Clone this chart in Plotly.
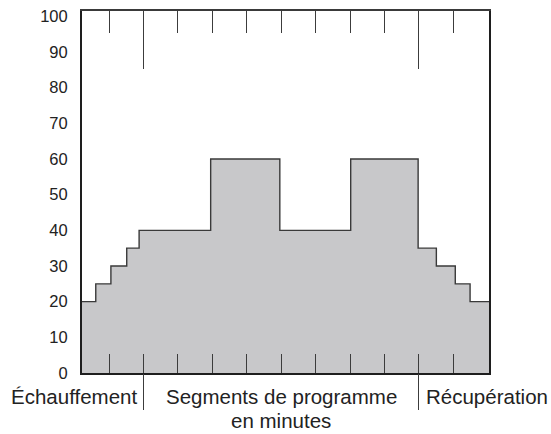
import plotly.graph_objects as go

FONT = "Liberation Sans, Arial, sans-serif"
TEXT_COLOR = "#222222"
FRAME_COLOR = "#1e1e1e"
TICK_COLOR = "#3c3c3c"

# step edges, in units of one tick interval (ticks at 0..10)
STEP_EDGES = [-0.79, -0.39, 0.05, 0.51, 0.87, 2.95, 4.96, 7.02, 8.98, 9.51, 10.06, 10.49, 11.04]
INTENSITY = [20, 25, 30, 35, 40, 60, 40, 60, 35, 30, 25, 20]

SEGMENT_TICKS = [0, 1, 2, 3, 4, 5, 6, 7, 8, 9, 10]
LONG_TICKS = [1, 9]
Y_TICKS = [0, 10, 20, 30, 40, 50, 60, 70, 80, 90, 100]

LABEL_WARMUP = "Échauffement"
LABEL_MAIN = ["Segments de programme", "en minutes"]
LABEL_RECOVERY = "Récupération"

x_range = [STEP_EDGES[0], STEP_EDGES[-1]]

fig = go.Figure()

# step profile, filled down to zero
fig.add_trace(
    go.Scatter(
        x=STEP_EDGES,
        y=INTENSITY + [INTENSITY[-1]],
        mode="lines",
        line_shape="hv",
        line=dict(color="#3a3a3a", width=1.4),
        fill="tozeroy",
        fillcolor="#c8c8ca",
        hoverinfo="skip",
        showlegend=False,
    )
)

fig.update_layout(
    width=551,
    height=434,
    margin=dict(l=82, r=62, t=7, b=61),
    plot_bgcolor="white",
    paper_bgcolor="white",
    font=dict(family=FONT, color=TEXT_COLOR, size=16),
    showlegend=False,
    # bottom axis: frame line + short inside ticks
    xaxis=dict(
        range=x_range,
        showgrid=False,
        zeroline=False,
        showline=True,
        linecolor=FRAME_COLOR,
        linewidth=2,
        mirror=False,
        tickmode="array",
        tickvals=SEGMENT_TICKS,
        showticklabels=False,
        ticks="inside",
        ticklen=19,
        tickwidth=1.3,
        tickcolor=TICK_COLOR,
    ),
    # bottom long ticks poking out below the axis
    xaxis2=dict(
        range=x_range,
        overlaying="x",
        anchor="y",
        side="bottom",
        showgrid=False,
        zeroline=False,
        showline=False,
        tickmode="array",
        tickvals=LONG_TICKS,
        showticklabels=False,
        ticks="outside",
        ticklen=36,
        tickwidth=1.3,
        tickcolor=TICK_COLOR,
    ),
    # top frame line + short ticks
    xaxis3=dict(
        range=x_range,
        overlaying="x",
        anchor="y",
        side="top",
        showgrid=False,
        zeroline=False,
        showline=True,
        linecolor="#3a3a3a",
        linewidth=1.5,
        tickmode="array",
        tickvals=SEGMENT_TICKS,
        showticklabels=False,
        ticks="inside",
        ticklen=22,
        tickwidth=1.3,
        tickcolor=TICK_COLOR,
    ),
    # top long ticks
    xaxis4=dict(
        range=x_range,
        overlaying="x",
        anchor="y",
        side="top",
        showgrid=False,
        zeroline=False,
        showline=False,
        tickmode="array",
        tickvals=LONG_TICKS,
        showticklabels=False,
        ticks="inside",
        ticklen=58,
        tickwidth=1.3,
        tickcolor=TICK_COLOR,
    ),
    yaxis=dict(
        range=[0, 101.5],
        tickmode="array",
        tickvals=Y_TICKS,
        showgrid=False,
        zeroline=False,
        showline=True,
        mirror=True,
        linecolor=FRAME_COLOR,
        linewidth=2,
        ticks="",
        ticklabelstandoff=9,
        tickfont=dict(size=16.5, color=TEXT_COLOR),
    ),
)

# invisible traces so the overlay axes are drawn
for ax in ["x2", "x3", "x4"]:
    fig.add_trace(go.Scatter(x=[None], y=[None], xaxis=ax, yaxis="y", showlegend=False, hoverinfo="skip"))

label_font = dict(size=20.5, color=TEXT_COLOR)
fig.add_annotation(
    text=LABEL_WARMUP, xref="x", yref="y", x=LONG_TICKS[0], y=0,
    xanchor="right", yanchor="top", xshift=-5, yshift=-10,
    showarrow=False, font=label_font,
)
for i, line in enumerate(LABEL_MAIN):
    fig.add_annotation(
        text=line, xref="x", yref="y", x=(LONG_TICKS[0] + LONG_TICKS[1]) / 2, y=0,
        xanchor="center", yanchor="top", yshift=-10 - 24 * i,
        showarrow=False, font=label_font,
    )
fig.add_annotation(
    text=LABEL_RECOVERY, xref="x", yref="y", x=LONG_TICKS[1], y=0,
    xanchor="left", yanchor="top", xshift=5, yshift=-10,
    showarrow=False, font=label_font,
)

# the page's default body margin would push the figure off the window
fig.write_html(
    "out.html",
    config={"displayModeBar": False},
    post_script="document.body.style.margin='0';",
)
